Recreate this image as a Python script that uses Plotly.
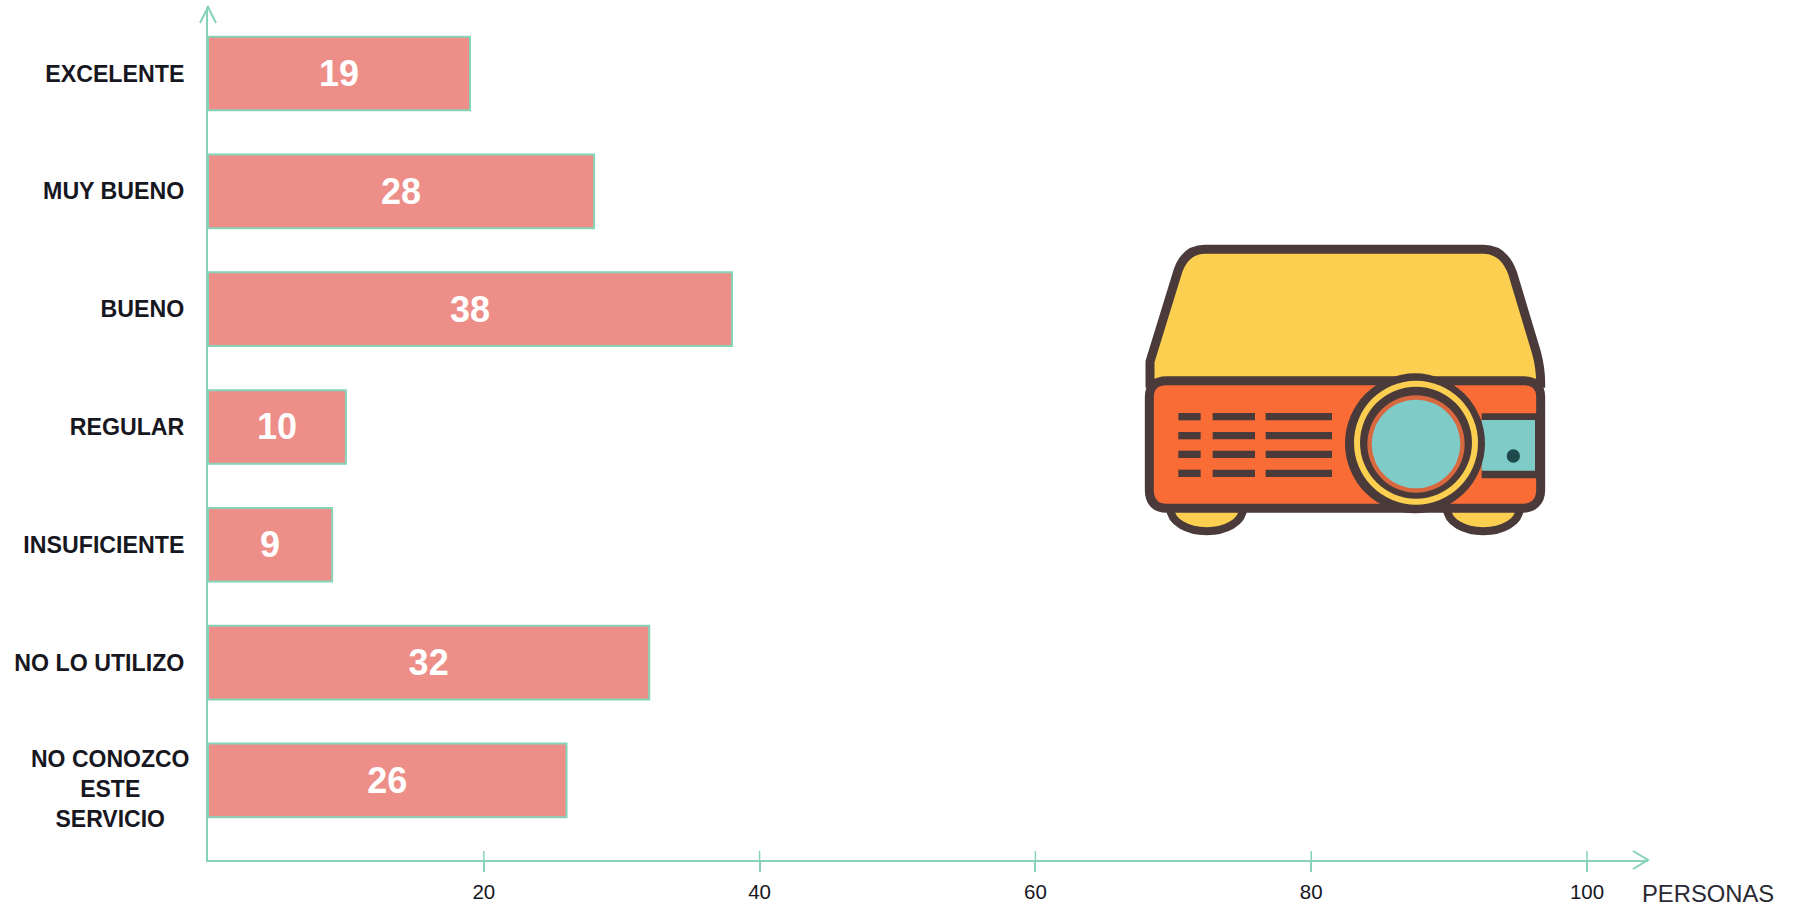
import plotly.graph_objects as go

W, H = 1793, 906
ML, MR, MT, MB = 208, 145, 7, 46

categories = ["EXCELENTE", "MUY BUENO", "BUENO", "REGULAR", "INSUFICIENTE", "NO LO UTILIZO", "NO CONOZCO<br>ESTE<br>SERVICIO"]
values = [19, 28, 38, 10, 9, 32, 26]
x_ticks = [20, 40, 60, 80, 100]
x_title = "PERSONAS"

AXIS = "#86D3B8"
BAR = "#EE8E88"
INK = "#17171F"
DARK = "#4A3B3A"
YELLOW = "#FCCF50"
ORANGE = "#F96C36"
TEAL = "#7FCBC8"

fig = go.Figure(go.Bar(
    y=list(range(len(categories))), x=values, orientation="h", width=0.625,
    marker=dict(color=BAR, line=dict(color=AXIS, width=2)),
    text=[str(v) for v in values], textposition="inside", insidetextanchor="middle",
    textangle=0, textfont=dict(family="Liberation Sans", size=36, color="white", weight="bold"),
    cliponaxis=False,
))

shapes = []

# axis arrowheads, sized in pixels
arrow = dict(color=AXIS, width=2)
shapes.append(dict(type="path", xref="paper", yref="paper", xsizemode="pixel", ysizemode="pixel",
                   xanchor=0, yanchor=1, path="M -8,-16 L 0,0 L 8,-16", line=arrow, layer="above"))
shapes.append(dict(type="path", xref="paper", yref="paper", xsizemode="pixel", ysizemode="pixel",
                   xanchor=1, yanchor=0, path="M -15,9 L 0,0 L -15,-9", line=arrow, layer="above"))
# upper half of the ticks that cross the x axis
for t in x_ticks:
    shapes.append(dict(type="line", xref="x", yref="paper", ysizemode="pixel", yanchor=0,
                       x0=t, x1=t, y0=0, y1=9, line=dict(color=AXIS, width=1.5)))

# projector illustration, drawn in its own local coordinates
def px(x):
    return (1120 + x / 3 - ML) / (W - ML - MR)
def py(y):
    return 1 - (220 + y / 3 - MT) / (H - MT - MB)
def pt(x, y):
    return f"{px(x):.5f},{py(y):.5f}"
def path(d, fill=None, color=None, width=0):
    out = []
    for tok in d.split():
        if "," in tok:
            a, b = tok.split(",")
            out.append(pt(float(a), float(b)))
        else:
            out.append(tok)
    shapes.append(dict(type="path", xref="paper", yref="paper", path=" ".join(out),
                       fillcolor=fill or "rgba(0,0,0,0)",
                       line=dict(color=color or "rgba(0,0,0,0)", width=width)))
def rect(x0, y0, x1, y1, fill):
    shapes.append(dict(type="rect", xref="paper", yref="paper", x0=px(x0), x1=px(x1), y0=py(y0), y1=py(y1),
                       fillcolor=fill, line=dict(width=0)))
def circle(cx, cy, r, fill, color=None, width=0):
    shapes.append(dict(type="circle", xref="paper", yref="paper", x0=px(cx - r), x1=px(cx + r),
                       y0=py(cy - r), y1=py(cy + r), fillcolor=fill,
                       line=dict(color=color or "rgba(0,0,0,0)", width=width)))

# feet
for a, b in ((150, 370), (980, 1200)):
    path(f"M {a},860 C {a},958 {b},958 {b},860 Z", YELLOW, DARK, 8)
# top housing
path("M 90,490 L 90,425 L 170,165 C 185,110 215,88 255,88 L 1090,88 C 1130,88 1160,110 1178,160 L 1250,400 "
     "C 1258,430 1262,450 1262,490 Z", YELLOW, DARK, 9)
# front housing
path("M 140,482 L 1210,482 C 1245,482 1262,500 1262,530 L 1262,810 C 1262,845 1240,865 1205,865 L 140,865 "
     "C 105,865 88,845 88,810 L 88,530 C 88,500 105,482 140,482 Z", ORANGE, DARK, 9)
# side panel
rect(1085, 580, 1255, 775, DARK)
rect(1085, 600, 1245, 752, TEAL)
circle(1180, 708, 20, "#1E4A4C")
# vents
for yc in (590, 647, 703, 760):
    for a, b in ((175, 242), (278, 405), (437, 636)):
        rect(a, yc - 11, b, yc + 11, DARK)
# lens
circle(885, 670, 210, DARK)
circle(888, 668, 186, YELLOW)
circle(888, 668, 168, DARK)
circle(888, 672, 146, "#D9683F")
circle(888, 672, 133, TEAL)

annotations = [
    dict(text="<b>" + categories[-1] + "</b>", xref="paper", yref="y", x=(191 - ML) / (W - ML - MR), y=6,
         yshift=-9, xanchor="right", yanchor="middle", align="center", showarrow=False,
         font=dict(family="Liberation Sans", size=23, color=INK)),
    dict(text=x_title, xref="paper", yref="paper", x=(1708 - ML) / (W - ML - MR), y=-33 / (H - MT - MB),
         xanchor="center", yanchor="middle", showarrow=False,
         font=dict(family="Liberation Sans", size=23.8, color="#2A2A33")),
]

fig.update_layout(
    width=W, height=H, autosize=False, showlegend=False,
    margin=dict(l=ML, r=MR, t=MT, b=MB, pad=0),
    paper_bgcolor="white", plot_bgcolor="white",
    shapes=shapes, annotations=annotations,
    xaxis=dict(automargin=False, range=[0, (W - ML - MR) / 13.79], tickmode="array", tickvals=x_ticks, ticktext=[str(t) for t in x_ticks],
               showgrid=False, zeroline=False, showline=True, linecolor=AXIS, linewidth=2,
               ticks="outside", ticklen=10, tickwidth=1.5, tickcolor=AXIS, ticklabelstandoff=2,
               tickfont=dict(family="Liberation Sans", size=20.5, color=INK)),
    yaxis=dict(automargin=False, range=[6.676, -0.565], tickmode="array", tickvals=list(range(6)), ticktext=[f"<b>{c}</b>" for c in categories[:6]],
               showgrid=False, zeroline=False, showline=True, linecolor=AXIS, linewidth=2,
               ticks="", ticklabelstandoff=17,
               tickfont=dict(family="Liberation Sans", size=23.2, color=INK)),
)

fig.write_html("out.html", config=dict(displayModeBar=False),
               post_script="document.body.style.margin='0';document.body.style.overflow='hidden';")
